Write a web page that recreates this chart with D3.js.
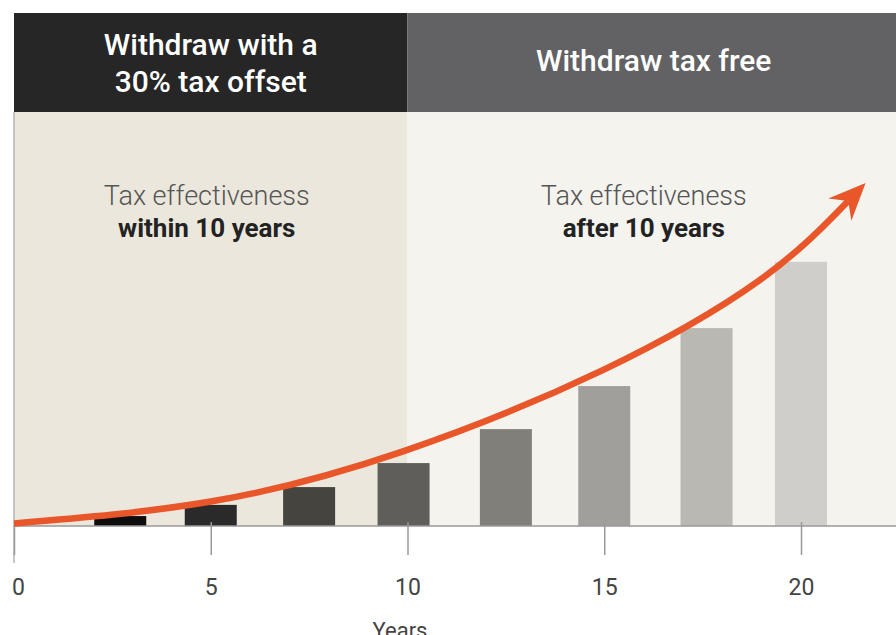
<!DOCTYPE html>
<html>
<head>
<meta charset="utf-8">
<script src="https://cdn.jsdelivr.net/npm/d3@7"></script>
<style>
  body { margin: 0; background: #fff; }
  svg { display: block; font-family: Roboto, "Noto Sans", sans-serif; }
</style>
</head>
<body>
<div id="chart"></div>
<script>
// data
var barYears  = [2.7, 5, 7.5, 9.9, 12.5, 15, 17.6, 20]
var barValues = [2.4, 5.1, 9.4, 15.2, 23.4, 33.8, 47.8, 63.8]
var barColors = ["#0d0d0d", "#2a2a2a", "#45443f", "#5f5e5b", "#807f7a", "#a19f9b", "#b9b8b3", "#cfceca"]

// arrow curve (years, value)
var curveYears  = [0, 5, 9.85, 14.95, 18.95, 21.2]
var curveValues = [0.6, 5.9, 17.9, 37.6, 59.4, 78.5]

var tickValues = [0, 5, 10, 15, 20]
var axisTitle = "Years"

var zoneStarts = [0, 10]
var zoneEnds   = [10, 22.5]
var zoneTitles = [["Withdraw with a", "30% tax offset"], ["Withdraw tax free"]]
var zoneNotes  = [["Tax effectiveness", "within 10 years"], ["Tax effectiveness", "after 10 years"]]
var zoneBg     = ["#ebe7dc", "#f4f3ee"]
var headerBg   = ["#262626", "#626264"]

var width = 896, height = 635
var headerTop = 13, plotTop = 112, baseline = 526

var svg = d3.select("#chart")
  .append("svg")
  .attr("width", width)
  .attr("height", height)

var x = d3.scaleLinear()
  .domain([0, 20])
  .range([14, 801])

var y = d3.scaleLinear()
  .domain([0, 100])
  .range([baseline, plotTop])

// backgrounds + headers
zoneStarts.forEach(function(s, i){
  var x0 = x(s), x1 = Math.min(x(zoneEnds[i]), width)
  svg.append("rect")
    .attr("x", x0).attr("y", plotTop)
    .attr("width", x1 - x0).attr("height", baseline - plotTop)
    .attr("fill", zoneBg[i])
  svg.append("rect")
    .attr("x", x0).attr("y", headerTop)
    .attr("width", x1 - x0).attr("height", plotTop - headerTop)
    .attr("fill", headerBg[i])

  var cx = (x0 + x1) / 2
  var lines = zoneTitles[i]
  lines.forEach(function(t, j){
    svg.append("text")
      .attr("x", i == 0 ? cx : cx + 2)
      .attr("y", lines.length == 1 ? 71 : 55 + j * 37)
      .attr("text-anchor", "middle")
      .attr("fill", "#fff")
      .style("font-size", "30px")
      .style("font-weight", 500)
      .text(t)
  })

  var notes = zoneNotes[i]
  svg.append("text")
    .attr("x", i == 0 ? cx - 4 : cx - 8)
    .attr("y", 205)
    .attr("text-anchor", "middle")
    .attr("fill", "#555")
    .style("font-size", "27px")
    .style("font-weight", 300)
    .text(notes[0])
  svg.append("text")
    .attr("x", i == 0 ? cx - 4 : cx - 8)
    .attr("y", 237)
    .attr("text-anchor", "middle")
    .attr("fill", "#222")
    .style("font-size", "26px")
    .style("font-weight", 700)
    .text(notes[1])
})

// left border line
svg.append("line")
  .attr("x1", x(0)).attr("x2", x(0))
  .attr("y1", plotTop).attr("y2", 563)
  .attr("stroke", "#b5b5b5")
  .attr("stroke-width", 1.5)

// bars
var barW = 52
svg.selectAll("bars")
  .data(barValues)
  .enter()
  .append("rect")
    .attr("x", function(d, i){ return x(barYears[i]) - barW / 2 })
    .attr("y", function(d){ return y(d) })
    .attr("width", barW)
    .attr("height", function(d){ return baseline - y(d) })
    .attr("fill", function(d, i){ return barColors[i] })

// axis
var axis = svg.append("g")
  .attr("transform", "translate(0," + baseline + ")")
  .call(d3.axisBottom(x).tickValues(tickValues).tickSize(29).tickPadding(24))
axis.select(".domain").remove()
axis.append("line")
  .attr("x1", x(0)).attr("x2", width)
  .attr("stroke", "#999").attr("stroke-width", 1.5)
axis.selectAll(".tick line").attr("stroke", "#999").attr("stroke-width", 1.5).attr("y1", -4)
axis.selectAll(".tick text")
  .attr("fill", "#444")
  .attr("dx", function(d){ return d == 0 ? 4 : 0 })
  .style("font-size", "23px")
  .style("font-family", "Roboto, sans-serif")

svg.append("text")
  .attr("x", 400)
  .attr("y", 638)
  .attr("text-anchor", "middle")
  .attr("fill", "#444")
  .style("font-size", "22px")
  .text(axisTitle)

// arrow
svg.append("defs").append("marker")
  .attr("id", "head")
  .attr("markerUnits", "userSpaceOnUse")
  .attr("markerWidth", 44).attr("markerHeight", 44)
  .attr("viewBox", "-12 -22 44 44")
  .attr("refX", 2).attr("refY", 0)
  .attr("orient", "auto")
  .append("path")
  .attr("d", "M-10,-16 L27,0 L-10,16 L2,0 Z")
  .attr("fill", "#e8562a")

var pts = curveYears.map(function(d, i){ return [d, curveValues[i]] })
svg.append("path")
  .datum(pts)
  .attr("fill", "none")
  .attr("stroke", "#e8562a")
  .attr("stroke-width", 6.5)
  .attr("marker-end", "url(#head)")
  .attr("d", d3.line()
    .x(function(d){ return x(d[0]) })
    .y(function(d){ return y(d[1]) })
    .curve(d3.curveNatural))
</script>
</body>
</html>
